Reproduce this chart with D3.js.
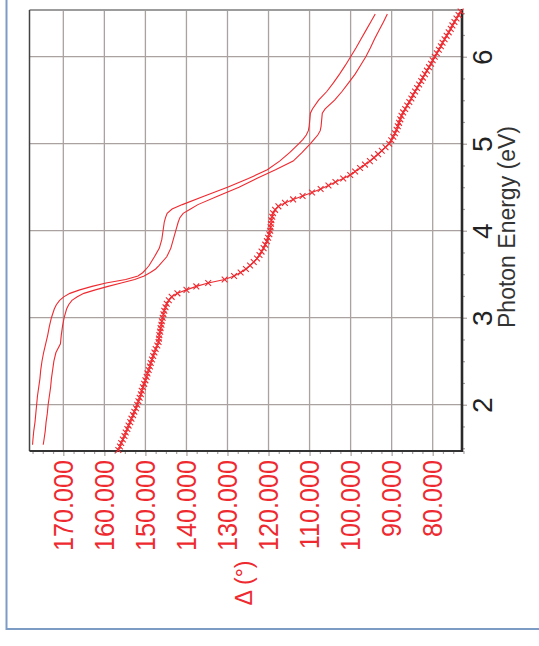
<!DOCTYPE html>
<html>
<head>
<meta charset="utf-8">
<script src="https://cdn.jsdelivr.net/npm/d3@7"></script>
<style>
  html, body { margin: 0; padding: 0; background: #fff; }
  svg { display: block; font-family: "Liberation Sans", Arial, Helvetica, sans-serif; }
</style>
</head>
<body>
<svg id="chart" width="539" height="646"></svg>
<script>
// Tick values of the two axes
const deltaTicks = [170, 160, 150, 140, 130, 120, 110, 100, 90, 80];
const deltaMinor = [72.5, 75, 77.5, 82.5, 85, 87.5, 92.5, 95, 97.5, 102.5, 105, 107.5,
  112.5, 115, 117.5, 122.5, 125, 127.5, 132.5, 135, 137.5, 142.5, 145, 147.5,
  152.5, 155, 157.5, 162.5, 165, 167.5, 172.5, 175, 177.5];
const energyTicks = [2, 3, 4, 5, 6];
const energyMinor = [1.5, 1.75, 2.25, 2.5, 2.75, 3.25, 3.5, 3.75, 4.25, 4.5, 4.75,
  5.25, 5.5, 5.75, 6.25, 6.5];

// Measured Delta (deg) vs photon energy (eV), plotted with x markers
const energyC = [1.48,1.52,1.56,1.60,1.64,1.68,1.72,1.76,1.80,1.84,1.88,1.92,1.96,2.00,
  2.04,2.08,2.12,2.16,2.20,2.24,2.28,2.32,2.36,2.40,2.44,2.48,2.52,2.56,2.60,2.64,2.68,
  2.72,2.76,2.80,2.84,2.88,2.92,2.96,3.00,3.04,3.08,3.12,3.16,3.20,3.24,3.28,3.32,3.36,
  3.40,3.44,3.48,3.52,3.56,3.60,3.64,3.68,3.72,3.76,3.80,3.84,3.88,3.92,3.96,4.00,4.04,
  4.08,4.12,4.16,4.20,4.24,4.28,4.32,4.36,4.40,4.44,4.48,4.52,4.56,4.60,4.64,4.68,4.72,
  4.76,4.80,4.84,4.88,4.92,4.96,5.00,5.04,5.08,5.12,5.16,5.20,5.24,5.28,5.32,5.36,5.40,
  5.44,5.48,5.52,5.56,5.60,5.64,5.68,5.72,5.76,5.80,5.84,5.88,5.92,5.96,6.00,6.04,6.08,
  6.12,6.16,6.20,6.24,6.28,6.32,6.36,6.40,6.44,6.48,6.52];
const deltaC = [156.6,156.2,155.9,155.5,155.1,154.8,154.4,154.1,153.7,153.4,153.0,152.7,
  152.3,152.0,151.7,151.4,151.1,150.9,150.6,150.3,150.0,149.7,149.5,149.2,148.9,148.7,
  148.4,148.1,147.8,147.5,147.1,146.8,146.7,146.6,146.4,146.3,146.1,146.0,145.8,145.6,
  145.4,145.1,144.8,144.3,143.6,142.2,140.0,137.6,134.7,130.7,128.4,126.8,125.5,124.5,
  123.6,122.8,122.2,121.7,121.2,120.8,120.4,120.1,119.8,119.6,119.5,119.4,119.3,119.1,
  118.9,118.4,117.6,116.0,114.0,111.7,109.4,107.3,105.4,103.7,101.8,100.1,98.9,97.7,
  96.5,95.3,94.3,93.3,92.4,91.5,90.6,90.1,89.6,89.2,88.8,88.5,88.2,87.9,87.6,87.2,86.7,
  86.2,85.7,85.2,84.8,84.3,83.8,83.3,82.8,82.4,81.9,81.4,80.9,80.4,80.0,79.5,79.0,78.5,
  78.0,77.6,77.1,76.6,76.1,75.6,75.2,74.7,74.2,73.7,73.2];

// Two model curves (plain lines)
const lineEnergy = [1.54,1.6,1.7,1.8,1.9,2.0,2.1,2.2,2.3,2.4,2.5,2.6,2.7,2.8,2.9,3.0,3.1,
  3.15,3.2,3.24,3.28,3.32,3.36,3.40,3.44,3.48,3.52,3.56,3.6,3.7,3.8,3.9,4.0,4.1,4.15,4.2,
  4.25,4.3,4.4,4.5,4.6,4.7,4.8,4.9,5.0,5.05,5.1,5.15,5.2,5.25,5.3,5.35,5.4,5.5,5.6,5.7,
  5.8,5.9,6.0,6.1,6.2,6.3,6.4,6.49];
const deltaA = [177.5,177.4,177.2,176.9,176.7,176.5,176.3,176.0,175.7,175.5,175.2,174.8,
  174.3,173.8,173.4,172.9,172.2,171.7,170.9,169.9,168.4,166.0,163.0,159.6,154.8,151.8,
  150.6,149.8,149.1,147.8,146.6,146.0,145.7,145.4,145.1,144.7,143.5,141.0,135.6,130.0,
  124.9,120.3,117.3,114.8,112.6,111.6,110.8,110.3,110.1,110.0,109.9,109.8,109.3,107.8,
  105.8,104.2,102.7,101.3,100.0,98.7,97.5,96.3,95.1,94.0];
const deltaB = [174.9,174.7,174.4,174.2,173.9,173.7,173.4,173.1,172.9,172.6,172.3,171.8,
  170.7,170.5,170.2,169.8,169.2,168.7,167.9,166.6,165.0,162.2,159.1,155.9,152.6,150.3,
  148.8,147.5,146.7,144.8,143.8,143.2,142.6,142.0,141.6,140.8,139.0,137.2,132.3,127.2,
  122.9,118.3,114.0,111.8,109.8,108.9,108.0,107.4,107.2,107.1,107.0,106.9,106.2,103.9,
  102.1,100.5,98.9,97.6,96.3,95.2,94.2,93.1,92.0,91.05];

const svg = d3.select('#chart');
const plot = { left: 29.5, right: 462, top: 10, bottom: 451 };
const red = '#ee2a30';
const gridColor = '#aaa2a1';

// Delta runs horizontally (decreasing to the right), energy vertically (increasing upward)
const x = d3.scaleLinear().domain([178.24, 72.86]).range([plot.left, plot.right]);
const y = d3.scaleLinear().domain([1.468, 6.537]).range([plot.bottom, plot.top]);

// Outer panel border
svg.append('rect')
  .attr('x', 6.5).attr('y', -10).attr('width', 600).attr('height', 639)
  .attr('fill', 'none').attr('stroke', '#7c9cc6').attr('stroke-width', 2);

// Grid lines
const grid = svg.append('g').attr('stroke', gridColor).attr('stroke-width', 1.3);
grid.append('g').selectAll('line').data(deltaTicks).join('line')
  .attr('x1', d => x(d)).attr('x2', d => x(d))
  .attr('y1', plot.top).attr('y2', plot.bottom);
grid.append('g').selectAll('line').data(energyTicks).join('line')
  .attr('x1', plot.left).attr('x2', plot.right)
  .attr('y1', d => y(d)).attr('y2', d => y(d));

// Bottom axis (Delta)
const bottomMinor = svg.append('g').attr('transform', `translate(0,${plot.bottom})`)
  .call(d3.axisBottom(x).tickValues(deltaMinor).tickSize(3).tickFormat(''));
const bottomMajor = svg.append('g').attr('transform', `translate(0,${plot.bottom})`)
  .call(d3.axisBottom(x).tickValues(deltaTicks).tickSize(5).tickFormat(d3.format('.3f')));
[bottomMinor, bottomMajor].forEach(g => {
  g.select('.domain').remove();
  g.selectAll('.tick line').attr('stroke', gridColor).attr('stroke-width', 1.2);
});
bottomMajor.selectAll('.tick text')
  .attr('x', null).attr('y', null).attr('dy', null)
  .attr('transform', 'translate(9.2,9) rotate(-90) scale(0.9,1)')
  .attr('text-anchor', 'end')
  .attr('fill', red)
  .style('font-size', '28px')
  .style('font-family', '"Liberation Sans", Arial, sans-serif');

// Right axis (photon energy)
const rightMinor = svg.append('g').attr('transform', `translate(${plot.right},0)`)
  .call(d3.axisRight(y).tickValues(energyMinor).tickSize(3).tickFormat(''));
const rightMajor = svg.append('g').attr('transform', `translate(${plot.right},0)`)
  .call(d3.axisRight(y).tickValues(energyTicks).tickSize(5).tickFormat(d3.format('d')));
[rightMinor, rightMajor].forEach(g => {
  g.select('.domain').remove();
  g.selectAll('.tick line').attr('stroke', gridColor).attr('stroke-width', 1.2);
});
rightMajor.selectAll('.tick text')
  .attr('x', null).attr('y', null).attr('dy', null)
  .attr('transform', 'translate(29.7,0) rotate(-90)')
  .attr('text-anchor', 'middle')
  .attr('fill', '#222')
  .style('font-size', '28px')
  .style('font-family', '"Liberation Sans", Arial, sans-serif');

// Plot frame
svg.append('line').attr('x1', plot.left).attr('x2', plot.right).attr('y1', plot.top).attr('y2', plot.top)
  .attr('stroke', '#9c9c9c').attr('stroke-width', 1.8);
svg.append('line').attr('x1', plot.left).attr('x2', plot.left).attr('y1', plot.top).attr('y2', plot.bottom)
  .attr('stroke', '#444').attr('stroke-width', 1.5);
svg.append('line').attr('x1', plot.left).attr('x2', plot.right).attr('y1', plot.bottom).attr('y2', plot.bottom)
  .attr('stroke', '#333').attr('stroke-width', 2);
svg.append('line').attr('x1', plot.right).attr('x2', plot.right).attr('y1', plot.top - 1).attr('y2', plot.bottom + 1)
  .attr('stroke', '#2a2a2a').attr('stroke-width', 2.6);

// Curves
const line = d3.line().x(d => x(d[1])).y(d => y(d[0]));
const seriesA = lineEnergy.map((e, i) => [e, deltaA[i]]);
const seriesB = lineEnergy.map((e, i) => [e, deltaB[i]]);
const seriesC = energyC.map((e, i) => [e, deltaC[i]]);

const curves = svg.append('g').attr('fill', 'none').attr('stroke', red).attr('stroke-width', 1.1);
curves.append('path').attr('d', line(seriesA));
curves.append('path').attr('d', line(seriesB));
curves.append('path').attr('d', line(seriesC));

// x markers on the measured series
const m = 2.9;
curves.append('g').selectAll('path').data(seriesC).join('path')
  .attr('transform', d => `translate(${x(d[1])},${y(d[0])})`)
  .attr('d', `M${-m},${-m}L${m},${m}M${-m},${m}L${m},${-m}`)
  .attr('stroke-width', 1.1);

// Axis titles
svg.append('text')
  .attr('transform', 'translate(515,227) rotate(-90)')
  .attr('text-anchor', 'middle')
  .attr('fill', '#333')
  .style('font-size', '23px')
  .text('Photon Energy (eV)');
svg.append('text')
  .attr('transform', 'translate(252.3,583) rotate(-90)')
  .attr('text-anchor', 'middle')
  .attr('fill', red)
  .style('font-size', '23px')
  .text('Δ (°)');
</script>
</body>
</html>
